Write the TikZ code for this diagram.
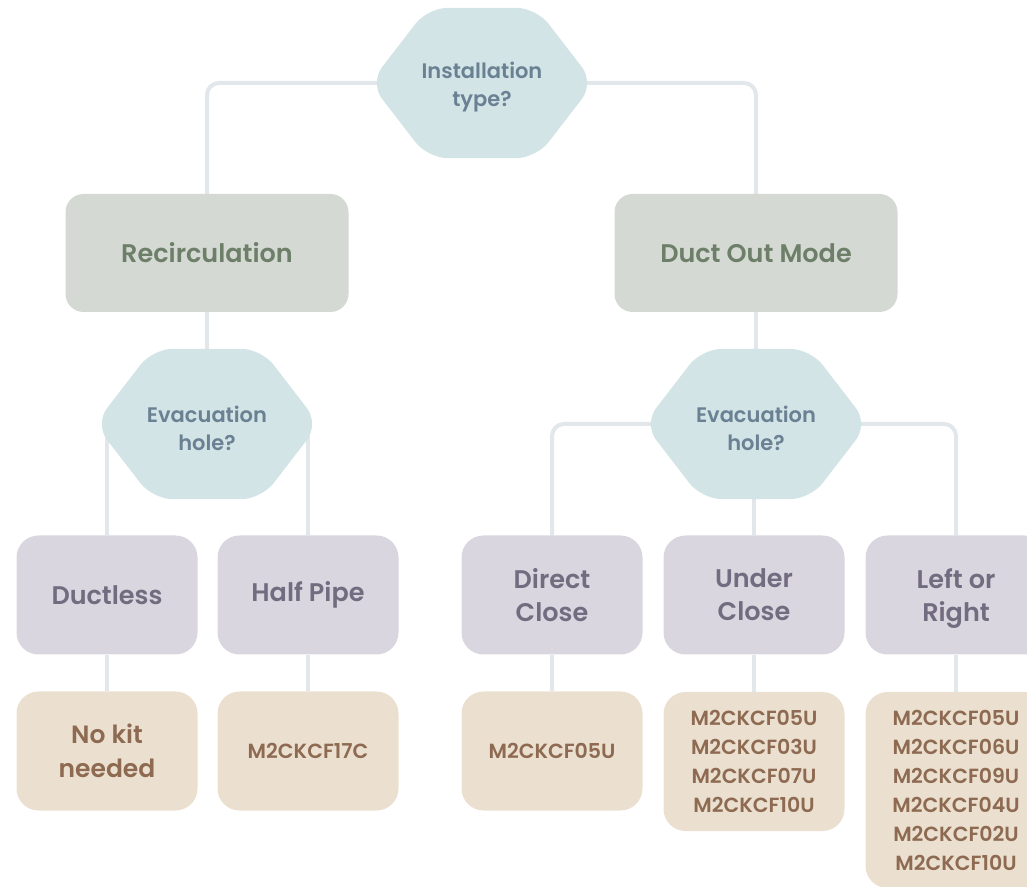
\documentclass[tikz,border=0pt]{standalone}
\usepackage{fontspec}
\setmainfont{Poppins}[UprightFont={* SemiBold}]
\usetikzlibrary{calc}
\pgfdeclarelayer{bg}
\pgfsetlayers{bg,main}
\definecolor{hexfill}{HTML}{D3E4E6}
\definecolor{hextext}{HTML}{6A8193}
\definecolor{modefill}{HTML}{D4D9D3}
\definecolor{modetext}{HTML}{6D7F69}
\definecolor{optfill}{HTML}{D9D6DF}
\definecolor{opttext}{HTML}{726C80}
\definecolor{kitfill}{HTML}{EBE0CF}
\definecolor{kittext}{HTML}{8D6A51}
\definecolor{wire}{HTML}{E1E7EB}
\tikzset{
  hexnode/.style={minimum width=224pt, minimum height=150pt, inner sep=0pt, align=center, text=hextext, font=\fontsize{21}{28}\selectfont},
  hexshape/.style={fill=hexfill, rounded corners=20pt},
  modebox/.style={fill=modefill, rounded corners=18pt, minimum width=283pt, minimum height=118pt, inner sep=0pt, text=modetext, font=\fontsize{25.5}{30}\selectfont, align=center},
  optbox/.style={fill=optfill, rounded corners=22pt, minimum width=181pt, minimum height=119pt, inner sep=0pt, text=opttext, font=\fontsize{25.5}{33}\selectfont, align=center},
  kitbox/.style={fill=kitfill, rounded corners=22pt, minimum width=181pt, minimum height=119pt, inner sep=0pt, text=kittext, font=\fontsize{20.5}{29}\selectfont, align=center},
  bigkit/.style={kitbox, font=\fontsize{25}{34}\selectfont},
  wireline/.style={draw=wire, line width=4pt, rounded corners=12pt},
}
% hexagon drawn around a text node whose text sits 4pt below the hexagon centre
\newcommand{\hexpath}[1]{%
  \fill[hexshape] ([xshift=58pt,yshift=4pt]#1.north west) -- ([xshift=-58pt,yshift=4pt]#1.north east) -- ([yshift=4pt]#1.east) -- ([xshift=-58pt,yshift=4pt]#1.south east) -- ([xshift=58pt,yshift=4pt]#1.south west) -- ([yshift=4pt]#1.west) -- cycle;}
\begin{document}
\begin{tikzpicture}[x=1pt,y=1pt]
\useasboundingbox (0,0) rectangle (1027,886);
\clip (0,0) rectangle (1027,886);
% decision nodes (text only, shape drawn on bg layer)
\node[hexnode] (inst) at (482,799) {Installation\\type?};
\node[hexnode] (evacL) at (207,458) {Evacuation\\hole?};
\node[hexnode] (evacR) at (756,458) {Evacuation\\hole?};
% modes
\node[modebox] (recirc) at (207,633) {Recirculation};
\node[modebox] (duct) at (756,633) {Duct Out Mode};
% options
\node[optbox] (ductless) at (107,291) {Ductless};
\node[optbox] (halfpipe) at (308,291) {Half Pipe};
\node[optbox] (direct) at (552,291) {Direct\\Close};
\node[optbox] (under) at (754,291) {Under\\Close};
\node[optbox] (lr) at (956,291) {Left or\\Ri\smash{g}ht};
% kits
\node[bigkit] (nokit) at (107,135) {No kit\\needed};
\node[kitbox] (k17c) at (308,135) {M2CKCF17C};
\node[kitbox] (k05) at (552,135) {M2CKCF05U};
\node[kitbox, minimum height=139pt] (kunder) at (754,124.5) {M2CKCF05U\\M2CKCF03U\\M2CKCF07U\\M2CKCF10U};
\node[kitbox, minimum height=196pt] (klr) at (956,96) {M2CKCF05U\\M2CKCF06U\\M2CKCF09U\\M2CKCF04U\\M2CKCF02U\\M2CKCF10U};
\begin{pgfonlayer}{bg}
  \draw[wireline] ([yshift=4pt]inst.center) -| (recirc.north);
  \draw[wireline] ([yshift=4pt]inst.center) -| (duct.north);
  \draw[wireline] (recirc.south) -- ([yshift=4pt]evacL.north);
  \draw[wireline] (duct.south) -- ([yshift=4pt]evacR.north);
  \draw[wireline] (ductless.north) -- ([yshift=4pt]ductless.north |- evacL.center);
  \draw[wireline] (halfpipe.north) -- ([yshift=4pt]halfpipe.north |- evacL.center);
  \draw[wireline] ([yshift=4pt]evacR.center) -| (direct.north);
  \draw[wireline] ([yshift=4pt]evacR.center) -| (lr.north);
  \draw[wireline] (under.north) -- ([yshift=4pt]under.north |- evacR.center);
  \draw[wireline] (ductless.south) -- (nokit.north);
  \draw[wireline] (halfpipe.south) -- (k17c.north);
  \draw[wireline] (direct.south) -- (k05.north);
  \draw[wireline] (under.south) -- (kunder.north);
  \draw[wireline] (lr.south) -- (klr.north);
  \hexpath{inst}
  \hexpath{evacL}
  \hexpath{evacR}
\end{pgfonlayer}
\end{tikzpicture}
\end{document}
